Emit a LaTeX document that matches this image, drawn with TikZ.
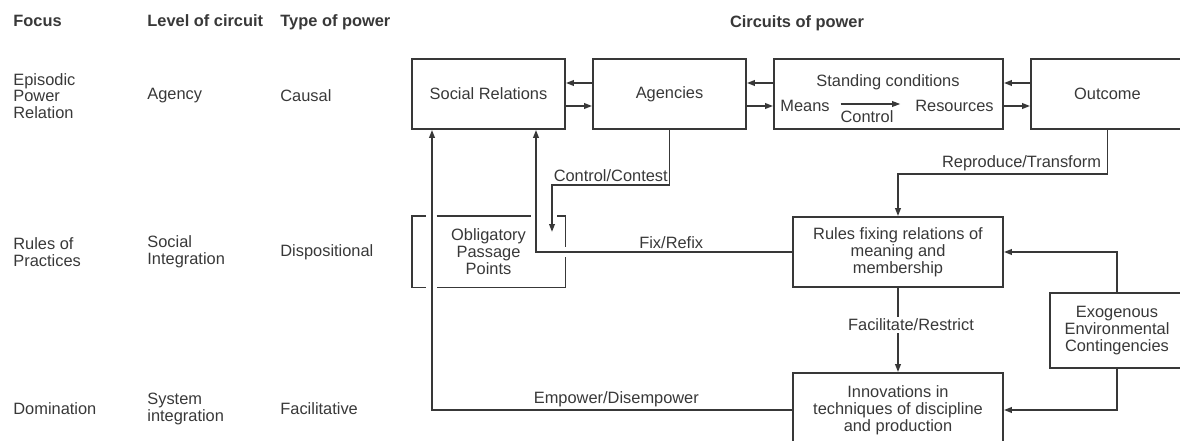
\documentclass[tikz,border=0pt]{standalone}
\usepackage{fontspec}
\setmainfont{Liberation Sans}
\usetikzlibrary{positioning, arrows.meta}
\colorlet{ink}{black!78}

\begin{document}
\begin{tikzpicture}[x=0.5pt, y=-0.5pt, >={Triangle[length=4pt,width=2.8pt]},
    every node/.style={font=\fontsize{8.2}{8.4}\selectfont, text=ink},
    box/.style={draw=ink, line width=0.9pt, align=center, inner sep=2pt},
    conn/.style={draw=ink, line width=0.9pt},
    lbl/.style={inner sep=1pt},
    head/.style={anchor=base west, inner xsep=0pt, font=\fontsize{8.2}{8.4}\selectfont\bfseries},
    col/.style={anchor=west, inner xsep=0pt, align=left}]
    \clip (0,0) rectangle (1180,440);

    % column heads
    \node[head] (hfocus) at (13,26) {Focus};
    \node[head] (hlevel) at (147,26) {Level of circuit};
    \node[head] (htype) at (280,26) {Type of power};
    \node[head, anchor=base] (hcirc) at (797,27) {Circuits of power};

    % rows
    \node[col] (f1) at (13,96) {Episodic\\Power\\Relation};
    \node[col] (l1) at (147,96) {Agency};
    \node[col] (t1) at (280,96) {Causal};
    \node[col] (f2) at (13,252) {Rules of\\Practices};
    \node[col] (l2) at (147,252) {Social\\Integration};
    \node[col] (t2) at (280,252) {Dispositional};
    \node[col] (f3) at (13,409) {Domination};
    \node[col] (l3) at (147,409) {System\\integration};
    \node[col] (t3) at (280,409) {Facilitative};

    % episodic circuit
    \node[box, minimum width=76.5pt, minimum height=35pt] (soc) at (488.5,94) {Social Relations};
    \node[box, minimum width=76.5pt, minimum height=35pt] (agen) at (669.5,94) {Agencies};
    \node[box, minimum width=114.5pt, minimum height=35pt] (stand) at (888.5,94) {};
    \node[box, minimum width=76.5pt, minimum height=35pt] (outc) at (1107.5,94) {Outcome};
    \node (sctitle) at (888,82) {Standing conditions};
    \node (means) at (805,106) {Means};
    \node (res) at (954.5,106) {Resources};
    \draw[conn, line width=0.7pt, ->, shorten <=2pt, shorten >=4pt] ([yshift=1pt]means.east) -- ([yshift=1pt]res.west);
    \node[lbl] (ctrl) at (867,117) {Control};

    \draw[conn,->] ([yshift=5.5pt]agen.west) -- ([yshift=5.5pt]soc.east);
    \draw[conn,->] ([yshift=-6pt]soc.east) -- ([yshift=-6pt]agen.west);
    \draw[conn,->] ([yshift=5.5pt]stand.west) -- ([yshift=5.5pt]agen.east);
    \draw[conn,->] ([yshift=-6pt]agen.east) -- ([yshift=-6pt]stand.west);
    \draw[conn,->] ([yshift=5.5pt]outc.west) -- ([yshift=5.5pt]stand.east);
    \draw[conn,->] ([yshift=-6pt]stand.east) -- ([yshift=-6pt]outc.west);

    % social and system integration
    \node[align=center, minimum width=76.5pt, minimum height=35.5pt] (opp) at (488.5,251.5) {Obligatory\\Passage\\Points};
    \node[box, minimum width=105pt, minimum height=35pt] (rules) at (898,252) {Rules fixing relations of\\meaning and\\membership};
    \node[box, minimum width=105pt, minimum height=37pt] (innov) at (898,410) {Innovations in\\techniques of discipline\\and production};
    \node[box, minimum width=67pt, minimum height=37.5pt] (exo) at (1117,330.5) {Exogenous\\Environmental\\Contingencies};

    % bracket round the passage points
    \draw[conn] ([xshift=7pt]opp.north west) -- (opp.north west) -- (opp.south west) -- ([xshift=7pt]opp.south west);
    \draw[conn] ([xshift=12.5pt]opp.north west) -- ([xshift=59.5pt]opp.north west);
    \draw[conn] ([xshift=-4pt]opp.north east) -- (opp.north east) -- ([yshift=-15.5pt]opp.north east);
    \draw[conn] ([yshift=15pt]opp.south east) -- (opp.south east) -- ([xshift=12.5pt]opp.south west);

    \coordinate (oppin) at (552,232);
    \draw[conn,->] (agen.south) -- ++(0,55) -| node[lbl, above, pos=0.25]{Control/Contest} (oppin);
    \draw[conn,->] (outc.south) -- ++(0,44) -| node[lbl, above, pos=0.205]{Reproduce/Transform} (rules.north);
    \draw[conn,->] (rules.west) -| node[lbl, above, pos=0.236]{Fix/Refix} ([xshift=23.75pt]soc.south);
    \draw[conn,->] (innov.west) -| node[lbl, above, pos=0.244]{Empower/Disempower} ([xshift=-28.25pt]soc.south);
    \draw[conn,->] (rules) -- node[lbl, fill=white, xshift=6.5pt, yshift=2.5pt]{Facilitate/Restrict} (innov);
    \draw[conn,->] (exo.north) |- (rules.east);
    \draw[conn,->] (exo.south) |- (innov.east);
\end{tikzpicture}
\end{document}
